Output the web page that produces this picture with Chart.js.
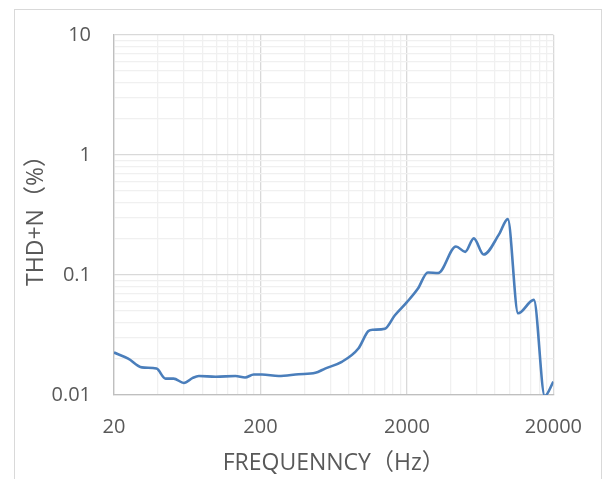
<!DOCTYPE html>
<html lang="en">
<head>
<meta charset="UTF-8">
<title>THD+N vs frequency</title>
<script src="https://cdn.jsdelivr.net/npm/chart.js@4"></script>
<style>
  body {
    margin: 0;
    padding: 0;
    background: #fff;
  }
  .wrap {
    position: relative;
    width: 602px;
    height: 479px;
  }
  .frame {
    position: absolute;
    left: 14px;
    top: 9px;
    width: 586px;
    height: 480px;
    border: 1px solid #d9d9d9;
  }
  canvas {
    position: absolute;
    left: 0;
    top: 0;
  }
</style>
</head>
<body>
<div class="wrap">
  <div class="frame"></div>
  <canvas id="thd" width="602" height="479"></canvas>
</div>
<script>
// frequency (Hz) and THD+N (%)
const freqs = [20, 25, 31, 39, 45, 51, 60, 69, 76, 99, 135, 157, 180, 205, 266, 364, 474, 552, 718, 932,
  1092, 1176, 1414, 1650, 2000, 2372, 2780, 3270, 4320, 5000, 5720, 6680, 8520, 9760, 11480, 14700, 17460, 20000];
const thdn = [0.0226, 0.0201, 0.0170, 0.0166, 0.0137, 0.0137, 0.0126, 0.0139, 0.0144, 0.0142, 0.0144, 0.0140, 0.0148, 0.0148, 0.0144, 0.0149, 0.0153, 0.0166, 0.0189, 0.0244,
  0.0341, 0.0350, 0.0357, 0.046, 0.0594, 0.0767, 0.105, 0.104, 0.173, 0.156, 0.202, 0.148, 0.219, 0.292, 0.048, 0.062, 0.0098, 0.0129];

const xLabels = [20, 200, 2000, 20000];
const yLabels = [0.01, 0.1, 1, 10];

// minor gridlines like excel: multiples of the decade start
function decadeTicks(majors) {
  const out = [];
  for (let i = 0; i < majors.length - 1; i++) {
    for (let k = 1; k < 10; k++) out.push(+(majors[i] * k).toPrecision(6));
  }
  out.push(majors[majors.length - 1]);
  return out;
}

const tickFont = { family: "'Open Sans', 'Noto Sans CJK SC', sans-serif", size: 20 };
const titleFont = { family: "'Open Sans', 'Noto Sans CJK SC', sans-serif", size: 23 };

const points = freqs.map((f, i) => ({ x: f, y: thdn[i] }));

new Chart(document.getElementById('thd').getContext('2d'), {
  type: 'scatter',
  data: {
    datasets: [{
      data: points,
      showLine: true,
      borderColor: '#4a7ebb',
      borderWidth: 2.6,
      pointRadius: 0,
      cubicInterpolationMode: 'monotone'
    }]
  },
  options: {
    responsive: false,
    animation: false,
    layout: { padding: { left: 19, right: 46, top: 33, bottom: 0 } },
    plugins: { legend: { display: false }, tooltip: { enabled: false } },
    scales: {
      x: {
        type: 'logarithmic',
        min: 20,
        max: 20000,
        afterBuildTicks: s => { s.ticks = decadeTicks(xLabels).map(v => ({ value: v })); },
        afterFit: s => { s.height = 84; },
        ticks: {
          autoSkip: false,
          maxRotation: 0,
          padding: 20,
          color: '#595959',
          font: tickFont,
          callback: v => xLabels.includes(v) ? String(v) : ''
        },
        grid: {
          drawTicks: false,
          color: c => xLabels.includes(c.tick && c.tick.value) ? '#d9d9d9' : '#f0f0f0',
          lineWidth: 1.3
        },
        border: { color: '#bfbfbf', width: 1.3 },
        title: {
          display: true,
          text: 'FREQUENNCY（Hz）',
          color: '#595959',
          font: titleFont,
          padding: { top: 0, bottom: 2 }
        }
      },
      y: {
        type: 'logarithmic',
        min: 0.01,
        max: 10,
        afterBuildTicks: s => { s.ticks = decadeTicks(yLabels).map(v => ({ value: v })); },
        afterFit: s => { s.width = 95; },
        ticks: {
          autoSkip: false,
          padding: 23,
          color: '#595959',
          font: tickFont,
          callback: v => yLabels.includes(v) ? String(v) : ''
        },
        grid: {
          drawTicks: false,
          color: c => yLabels.includes(c.tick && c.tick.value) ? '#d9d9d9' : '#f0f0f0',
          lineWidth: 1.3
        },
        border: { color: '#bfbfbf', width: 1.3 },
        title: {
          display: true,
          text: 'THD+N（%）',
          color: '#595959',
          font: titleFont,
          padding: { top: 4, bottom: 0 }
        }
      }
    }
  }
});
</script>
</body>
</html>
